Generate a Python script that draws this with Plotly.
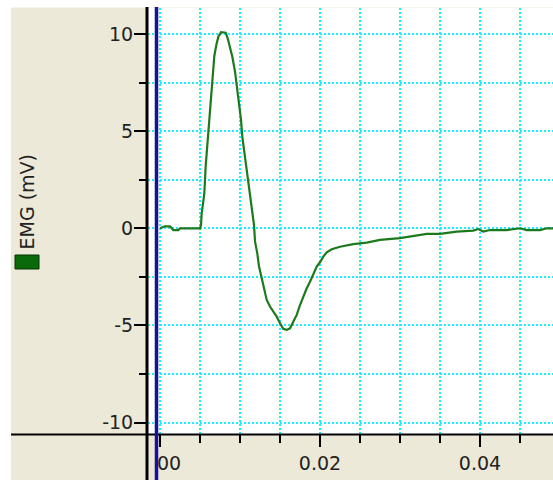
import plotly.graph_objects as go

# ---- data ----
time_s = [0.0, 0.000625, 0.00125, 0.00166, 0.00229, 0.0025, 0.005, 0.00513, 0.0052,
          0.00554, 0.00571, 0.00604, 0.00629, 0.00654, 0.00679, 0.00704, 0.00729,
          0.00763, 0.00821, 0.00846, 0.00875, 0.00904, 0.00938, 0.00963, 0.00988,
          0.01013, 0.01029, 0.01063, 0.01092, 0.01121, 0.01146, 0.01175, 0.01188,
          0.01216, 0.01238, 0.01271, 0.013, 0.01334, 0.01375, 0.01416, 0.01459,
          0.015, 0.01541, 0.01584, 0.01625, 0.01666, 0.01709, 0.0175, 0.01791,
          0.01834, 0.01875, 0.01916, 0.01959, 0.02, 0.02041, 0.02084, 0.02146,
          0.0225, 0.02416, 0.02584, 0.0275, 0.03, 0.03166, 0.03334, 0.035,
          0.03709, 0.03916, 0.03979, 0.0404, 0.04125, 0.04334, 0.045, 0.04584,
          0.0475, 0.04834, 0.049125]
emg_mv = [0.0, 0.1, 0.1, -0.09, -0.09, 0.0, 0.0, 0.17, 0.72,
          1.8, 3.2, 4.9, 6.5, 7.8, 8.87, 9.43, 9.86,
          10.1, 10.07, 9.78, 9.35, 8.83, 8.06, 7.29, 6.5,
          5.57, 4.71, 3.69, 2.74, 1.88, 1.03, 0.17, -0.69,
          -1.29, -1.97, -2.57, -3.18, -3.69, -4.03, -4.29, -4.55,
          -4.89, -5.18, -5.23, -5.15, -4.81, -4.46, -3.95, -3.52,
          -3.09, -2.75, -2.32, -1.97, -1.75, -1.46, -1.24, -1.08,
          -0.95, -0.82, -0.74, -0.60, -0.51, -0.40, -0.29, -0.29,
          -0.17, -0.12, -0.04, -0.17, -0.09, -0.09, 0.0, -0.09,
          -0.09, 0.0, 0.0]

x_tick_vals = [0.0, 0.02, 0.04]
x_tick_text = ["0.00", "0.02", "0.04"]
y_tick_vals = [-10, -5, 0, 5, 10]
y_tick_text = ["-10", "-5", "0", "5", "10"]
series_name = "EMG (mV)"

# ---- style ----
# Page body margin is removed in post_script; figure covers the whole 553x480 page.
W, H = 553, 480
L, R, T, B = 148, 0, 8, 46
PW, PH = W - L - R, H - T - B
BEIGE = "#ECE9D8"
GRID = "#19F0FF"
FONT = dict(family="DejaVu Sans", size=19, color="#222222")


def px_x(px):  # page pixel -> paper fraction
    return (px - L) / PW


def px_y(py):
    return (H - B - py) / PH


fig = go.Figure()
fig.add_trace(go.Scatter(x=time_s, y=emg_mv, mode="lines", name=series_name,
                         line=dict(color="#1C7A1C", width=2.2), showlegend=False))

grid_common = dict(showgrid=True, gridcolor=GRID, gridwidth=2, griddash="2px,2px")

fig.update_xaxes(range=[-0.0015, 0.049125], tickmode="array", tickvals=x_tick_vals,
                 ticktext=x_tick_text, ticks="outside", ticklen=12, tickwidth=2,
                 tickcolor="black", showline=False, zeroline=False, tickfont=FONT,
                 minor=dict(dtick=0.005, tick0=0, ticks="outside", ticklen=8, tickwidth=2,
                            tickcolor="black", **grid_common),
                 **grid_common)
fig.update_yaxes(range=[-10.59, 11.34], tickmode="array", tickvals=y_tick_vals,
                 ticktext=y_tick_text, ticks="outside", ticklen=13, tickwidth=2,
                 tickcolor="black", showline=False, zeroline=False, tickfont=FONT,
                 ticklabelstandoff=-3,
                 minor=dict(dtick=2.5, tick0=0, ticks="outside", ticklen=8, tickwidth=2,
                            tickcolor="black", **grid_common),
                 **grid_common)

shapes = [
    # white outer margins (left strip and top strip)
    dict(type="rect", xref="paper", yref="paper", layer="below",
         x0=px_x(0), x1=px_x(11), y0=px_y(480), y1=px_y(0),
         fillcolor="white", line=dict(width=0)),
    dict(type="rect", xref="paper", yref="paper", layer="below",
         x0=px_x(0), x1=1, y0=px_y(7.5), y1=px_y(0),
         fillcolor="white", line=dict(width=0)),
    # beige cover left of cursor in the bottom band
    dict(type="rect", xref="paper", yref="paper", layer="above",
         x0=px_x(136), x1=px_x(155), y0=px_y(480), y1=px_y(436.5),
         fillcolor=BEIGE, line=dict(width=0)),
    # horizontal axis line
    dict(type="line", xref="paper", yref="paper", layer="above",
         x0=px_x(11), x1=1, y0=px_y(434.5), y1=px_y(434.5),
         line=dict(color="black", width=2)),
    # vertical axis line
    dict(type="line", xref="paper", yref="paper", layer="above",
         x0=px_x(147), x1=px_x(147), y0=px_y(480), y1=px_y(7),
         line=dict(color="black", width=3)),
    # blue cursor line
    dict(type="line", xref="paper", yref="paper", layer="above",
         x0=px_x(156.5), x1=px_x(156.5), y0=px_y(480), y1=px_y(7),
         line=dict(color="#12129A", width=3.5)),
    # legend swatch
    dict(type="rect", xref="paper", yref="paper", layer="above",
         x0=px_x(15), x1=px_x(39), y0=px_y(269), y1=px_y(255),
         fillcolor="#0A6A0A", line=dict(color="#053305", width=1)),
]

fig.update_layout(
    width=W, height=H, margin=dict(l=L, r=R, t=T, b=B, pad=0),
    paper_bgcolor=BEIGE, plot_bgcolor="white",
    shapes=shapes, showlegend=False, hovermode=False,
    annotations=[dict(text=series_name, xref="paper", yref="paper",
                      x=px_x(27), y=px_y(201.5), xanchor="center", yanchor="middle",
                      textangle=-90, showarrow=False, font=FONT)],
)

fig.write_html(
    "out.html",
    config={"displayModeBar": False, "staticPlot": True},
    post_script="document.body.style.margin='0px';"
                "document.documentElement.style.overflow='hidden';"
                "document.body.style.overflow='hidden';",
)
